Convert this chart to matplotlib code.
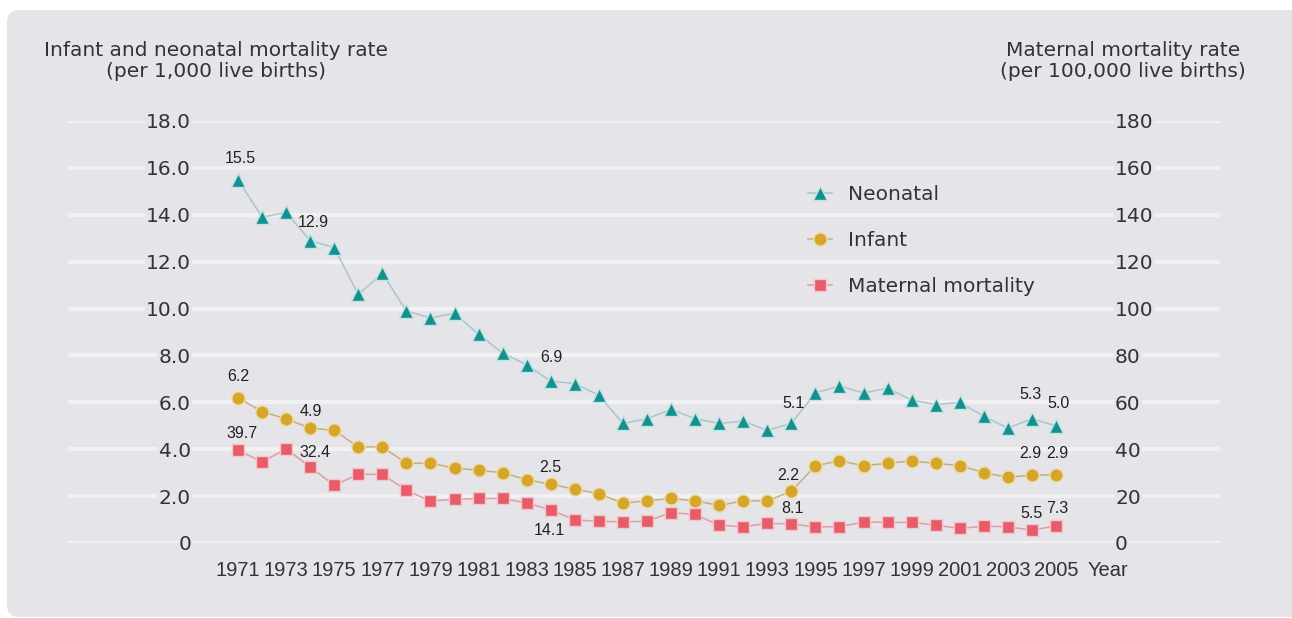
import numpy as np
import matplotlib.pyplot as plt
from matplotlib.patches import FancyBboxPatch

# rates by year, 1971-2005
years = list(range(1971, 2006))
neonatal = [15.5, 13.9, 14.1, 12.9, 12.6, 10.6, 11.5, 9.9, 9.6, 9.8,
            8.9, 8.1, 7.6, 6.9, 6.8, 6.3, 5.1, 5.3, 5.7, 5.3,
            5.1, 5.2, 4.8, 5.1, 6.4, 6.7, 6.4, 6.6, 6.1, 5.9,
            6.0, 5.4, 4.9, 5.3, 5.0]
infant = [6.2, 5.6, 5.3, 4.9, 4.8, 4.1, 4.1, 3.4, 3.4, 3.2,
          3.1, 3.0, 2.7, 2.5, 2.3, 2.1, 1.7, 1.8, 1.9, 1.8,
          1.6, 1.8, 1.8, 2.2, 3.3, 3.5, 3.3, 3.4, 3.5, 3.4,
          3.3, 3.0, 2.8, 2.9, 2.9]
maternal = [39.7, 34.5, 40.2, 32.4, 24.6, 29.3, 29.3, 22.5, 17.9, 18.6,
            19.0, 19.0, 17.1, 14.1, 9.8, 9.3, 9.0, 9.3, 12.9, 12.2,
            7.6, 6.9, 8.4, 8.1, 6.9, 6.9, 9.0, 8.8, 8.8, 7.6,
            6.2, 7.2, 6.9, 5.5, 7.3]

left_ticks = [0, 2, 4, 6, 8, 10, 12, 14, 16, 18]
left_ticklabels = ['0', '2.0', '4.0', '6.0', '8.0', '10.0', '12.0', '14.0', '16.0', '18.0']
right_ticks = [0, 20, 40, 60, 80, 100, 120, 140, 160, 180]
year_ticks = list(range(1971, 2006, 2))

# (year, offset in pixels) for the values written on the chart
neo_notes = [(1971, (2, 21)), (1974, (3, 18)), (1984, (1, 24)), (1994, (2, 20)),
             (2004, (-1, 24)), (2005, (2, 22))]
inf_notes = [(1971, (0, 21)), (1974, (1, 17)), (1984, (0, 17)), (1994, (-3, 16)),
             (2004, (-2, 22)), (2005, (1, 22))]
mat_notes = [(1971, (4, 16)), (1974, (5, 15)), (1984, (-1, -21)), (1994, (1, 16)),
             (2004, (0, 17)), (2005, (1, 17))]

W, H = 1292, 618
panel_c = '#e4e4e9'
grid_c = '#f1f1f4'
text_c = '#333333'
narrow = ['Liberation Sans', 'DejaVu Sans']
lab_size = 14.5

fig = plt.figure(figsize=(W / 100, H / 100), dpi=100)
fig.patch.set_facecolor('white')

# rounded grey panel behind everything
bg = fig.add_axes([0, 0, 1, 1], zorder=0)
bg.set_axis_off()
bg.set_xlim(0, W)
bg.set_ylim(H, 0)
bg.add_patch(FancyBboxPatch((7, 10), W + 20, 607,
                            boxstyle='round,pad=0,rounding_size=12',
                            facecolor=panel_c, edgecolor='none'))

ax = fig.add_axes([68 / W, 1 - 543 / H, (1220 - 68) / W, (543 - 121) / H], zorder=1)
ax.set_facecolor('none')
for s in ax.spines.values():
    s.set_visible(False)

px = 24.06
ax.set_xlim(1971 - (238 - 68) / px, 2005 + (1220 - 1056) / px)
ax.set_ylim(0, 18)
ax.set_axisbelow(True)
ax.yaxis.grid(True, color=grid_c, lw=3.2)
ax.set_yticks(left_ticks)
ax.set_yticklabels(left_ticklabels)
ax.tick_params(axis='y', length=0, pad=-(191 - 68) * 0.72, labelsize=lab_size,
               labelcolor=text_c)
for lab in ax.get_yticklabels():
    lab.set_bbox(dict(facecolor=panel_c, edgecolor='none', pad=1))

ax.set_xticks(year_ticks)
ax.set_xticklabels([str(y) for y in year_ticks])
ax.tick_params(axis='x', length=0, pad=13, labelsize=14.5, labelcolor=text_c)
for lab in ax.get_xticklabels():
    lab.set_fontfamily(narrow)

ax2 = ax.twinx()
ax2.set_zorder(2)
ax2.set_facecolor('none')
for s in ax2.spines.values():
    s.set_visible(False)
ax2.set_ylim(0, 180)
ax2.set_yticks(right_ticks)
ax2.tick_params(axis='y', length=0, pad=-(1220 - 1115) * 0.72, labelsize=lab_size,
                labelcolor=text_c)
for lab in ax2.get_yticklabels():
    lab.set_bbox(dict(facecolor=panel_c, edgecolor='none', pad=1))

l_neo, = ax.plot(years, neonatal, color='#a9c7c8', lw=1.1, marker='^', ms=9.5,
                 mfc='#13918f', mec='#c2e3e3', mew=1.0, clip_on=False, zorder=3)
l_inf, = ax.plot(years, infant, color='#c8ae7a', lw=1.1, marker='o', ms=9.5,
                 mfc='#d6a62a', mec='#eedcaa', mew=1.0, clip_on=False, zorder=3)
l_mat, = ax2.plot(years, maternal, color='#e29ca2', lw=1.1, marker='s', ms=8.5,
                  mfc='#e65c69', mec='#f4c6ca', mew=1.0, clip_on=False, zorder=3)

note_kw = dict(textcoords='offset pixels', ha='center', va='center',
               fontsize=11.5, color='#222222', family=['Liberation Sans', 'DejaVu Sans'])
for yr, off in neo_notes:
    v = neonatal[years.index(yr)]
    ax.annotate(f'{v:.1f}', (yr, v), xytext=off, **note_kw)
for yr, off in inf_notes:
    v = infant[years.index(yr)]
    ax.annotate(f'{v:.1f}', (yr, v), xytext=off, **note_kw)
for yr, off in mat_notes:
    v = maternal[years.index(yr)]
    ax2.annotate(f'{v:.1f}', (yr, v), xytext=off, **note_kw)

# axis titles
fig.text(216 / W, 1 - 61 / H, 'Infant and neonatal mortality rate\n(per 1,000 live births)',
         ha='center', va='center', multialignment='center', fontsize=lab_size,
         color=text_c, linespacing=1.1)
fig.text(1123 / W, 1 - 61 / H, 'Maternal mortality rate\n(per 100,000 live births)',
         ha='center', va='center', multialignment='center', fontsize=lab_size,
         color=text_c, linespacing=1.1)
fig.text(1088 / W, 1 - 571 / H, 'Year', ha='left', va='center', fontsize=14.5,
         color=text_c, family=narrow)

leg = ax2.legend(handles=[l_neo, l_inf, l_mat],
                 labels=['Neonatal', 'Infant', 'Maternal mortality'],
                 loc='upper left', bbox_to_anchor=(808 / W, 1 - 185 / H),
                 bbox_transform=fig.transFigure, frameon=False, fontsize=lab_size,
                 handlelength=1.2, handletextpad=0.8, labelspacing=1.35,
                 borderpad=0, borderaxespad=0, labelcolor=text_c)

fig.savefig('out.png', dpi=100, facecolor='white')
